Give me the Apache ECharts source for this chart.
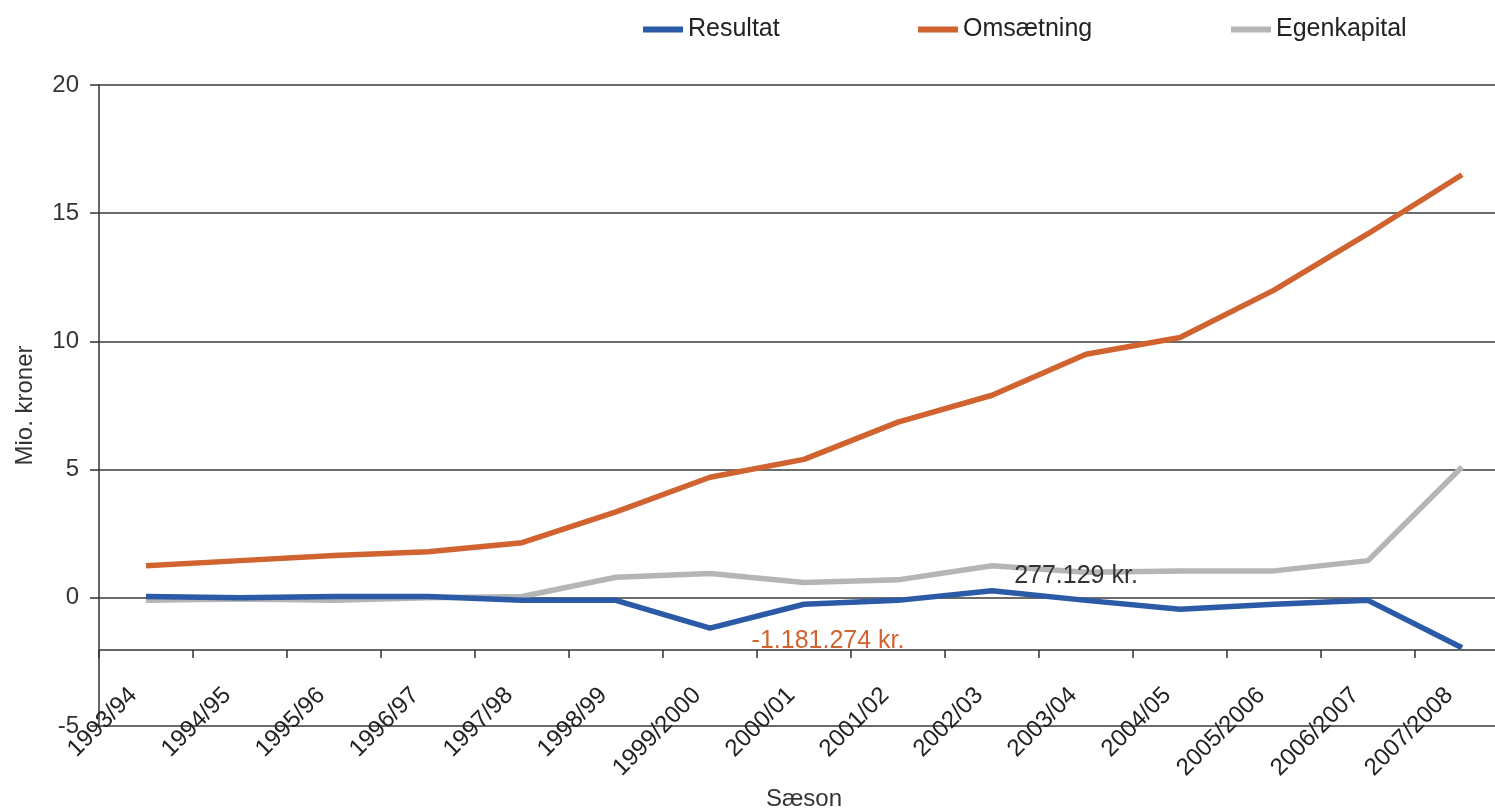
<!DOCTYPE html>
<html>
<head>
<meta charset="utf-8">
<script src="https://cdn.jsdelivr.net/npm/echarts@6/dist/echarts.min.js"></script>
<style>
html,body{margin:0;padding:0;background:#fff;}
#chart{width:1495px;height:808px;}
</style>
</head>
<body>
<div id="chart"></div>
<script>
var categories = ['1993/94','1994/95','1995/96','1996/97','1997/98','1998/99','1999/2000','2000/01','2001/02','2002/03','2003/04','2004/05','2005/2006','2006/2007','2007/2008'];
var resultat    = [0.05, 0.0, 0.05, 0.05, -0.1, -0.1, -1.181274, -0.25, -0.1, 0.277129, -0.1, -0.45, -0.25, -0.1, -1.95];
var omsaetning  = [1.25, 1.45, 1.65, 1.8, 2.15, 3.35, 4.7, 5.4, 6.85, 7.9, 9.5, 10.15, 12.0, 14.2, 16.5];
var egenkapital = [-0.1, -0.05, -0.1, 0.0, 0.05, 0.8, 0.95, 0.6, 0.7, 1.25, 1.0, 1.05, 1.05, 1.45, 5.1];
var seriesNames = ['Resultat','Omsætning','Egenkapital'];
var yTicks = { min: -5, max: 20, interval: 5 };
var annotations = [
  { index: 6, value: -1.181274, text: '-1.181.274 kr.' },
  { index: 9, value: 0.277129, text: '277.129 kr.' }
];

var FONT = '"Liberation Sans", Arial, sans-serif';
var colors = ['#2b5aa6', '#d0632f', '#b5b5b5'];

var chart = echarts.init(document.getElementById('chart'));

function legendFor(name, left) {
  return {
    data: [name], left: left, top: 12,
    icon: 'rect', itemWidth: 40, itemHeight: 6,
    textStyle: { fontFamily: FONT, fontSize: 25, color: '#222' },
    selectedMode: false
  };
}

var option = {
  backgroundColor: '#fff',
  animation: false,
  color: colors,
  legend: [legendFor('Resultat', 638), legendFor('Omsætning', 913), legendFor('Egenkapital', 1226)],
  grid: { left: 99, width: 1410, top: 85, bottom: 82, containLabel: false, outerBoundsMode: 'none' },
  xAxis: {
    type: 'category',
    data: categories,
    boundaryGap: true,
    position: 'bottom',
    offset: -76,
    axisLine: { show: true, onZero: false, lineStyle: { color: '#333', width: 1.5 } },
    axisTick: { show: true, length: 8, alignWithLabel: false, lineStyle: { color: '#333', width: 1.5 } },
    axisLabel: { interval: 0, rotate: 45, margin: 29, padding: [0, 18, 0, 0], fontFamily: FONT, fontSize: 24, color: '#222' },
    name: 'Sæson', nameLocation: 'middle', nameGap: 135,
    nameTextStyle: { fontFamily: FONT, fontSize: 24, color: '#333' },
    splitLine: { show: false }
  },
  yAxis: {
    type: 'value',
    min: yTicks.min, max: yTicks.max, interval: yTicks.interval,
    axisLine: { show: true, lineStyle: { color: '#333', width: 1.5 } },
    axisTick: { show: true, length: 9, lineStyle: { color: '#333', width: 1.5 } },
    axisLabel: { margin: 20, fontFamily: FONT, fontSize: 24, color: '#333' },
    splitLine: { show: true, lineStyle: { color: '#3a3a3a', width: 1.5 } },
    name: 'Mio. kroner', nameLocation: 'middle', nameGap: 62, nameRotate: 90,
    nameTextStyle: { fontFamily: FONT, fontSize: 24, color: '#333' }
  },
  series: [
    {
      name: seriesNames[0], type: 'line', data: resultat, showSymbol: false, symbol: 'none',
      lineStyle: { width: 5.5, color: colors[0] }, z: 3,
      markPoint: {
        symbol: 'circle', symbolSize: 1, itemStyle: { color: 'rgba(0,0,0,0)' },
        data: [
          { coord: [annotations[0].index, annotations[0].value], value: annotations[0].text,
            label: { show: true, position: 'inside', offset: [118, 13], formatter: annotations[0].text,
              fontFamily: FONT, fontSize: 25, color: '#d0632f' } },
          { coord: [annotations[1].index, annotations[1].value], value: annotations[1].text,
            label: { show: true, position: 'inside', offset: [84, -15], formatter: annotations[1].text,
              fontFamily: FONT, fontSize: 25, color: '#333' } }
        ]
      }
    },
    {
      name: seriesNames[1], type: 'line', data: omsaetning, showSymbol: false, symbol: 'none',
      lineStyle: { width: 5.5, color: colors[1] }, z: 2
    },
    {
      name: seriesNames[2], type: 'line', data: egenkapital, showSymbol: false, symbol: 'none',
      lineStyle: { width: 5.5, color: colors[2] }, z: 1
    }
  ]
};
chart.setOption(option);
</script>
</body>
</html>
